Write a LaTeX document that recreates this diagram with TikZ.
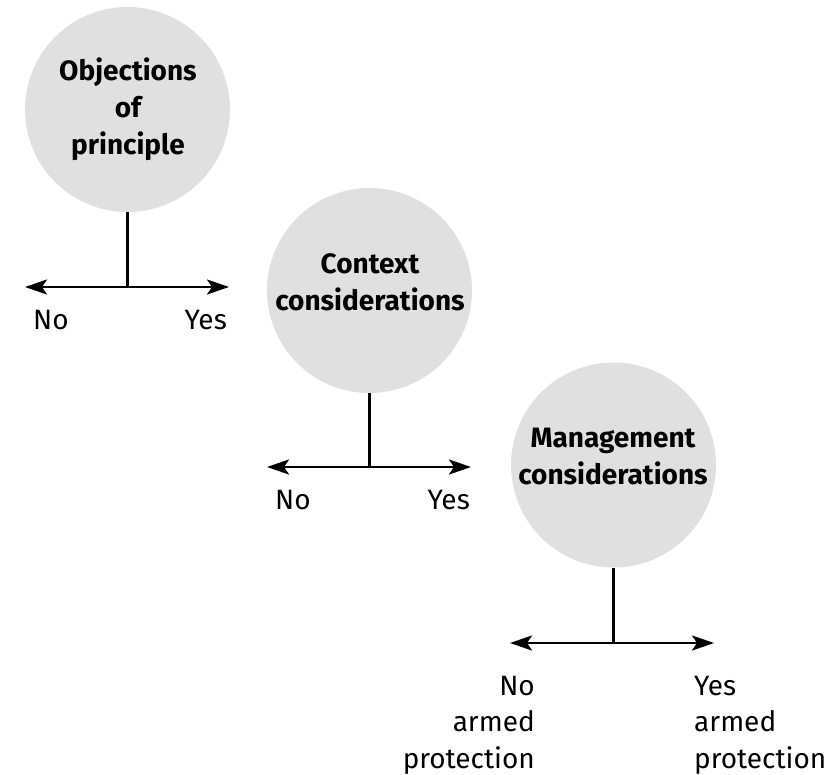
\documentclass[tikz,border=0pt]{standalone}
\usepackage{fontspec}
\setmainfont{Fira Sans}
\usetikzlibrary{arrows.meta}
\definecolor{circfill}{HTML}{E0E0E0}
\begin{document}
\begin{tikzpicture}[x=1pt,y=-1pt,
  bubble/.style={circle, fill=circfill, minimum size=205pt, inner sep=0pt},
  qtext/.style={inner sep=0pt, anchor=base, font=\fontsize{28}{37}\selectfont\bfseries},
  ans/.style={inner sep=0pt, font=\fontsize{28}{36.5}\selectfont},
  stem/.style={line width=2.6pt},
  fork/.style={line width=2.6pt, {Stealth[length=22pt,width=15pt,inset=5pt]}-{Stealth[length=22pt,width=15pt,inset=5pt]}}
]
\useasboundingbox (0,0) rectangle (840,774);

% circles
\node[bubble] (c1) at (127.5,109.5) {};
\node[bubble] (c2) at (369.5,290.5) {};
\node[bubble] (c3) at (613.5,465) {};

% circle texts
\node[qtext] (t1) at (128,80) {\begin{tabular}[t]{@{}c@{}}Objections\\of\\principle\end{tabular}};
\node[qtext] (t2) at (370,273) {\begin{tabular}[t]{@{}c@{}}Context\\considerations\end{tabular}};
\node[qtext] (t3) at (613,447) {\begin{tabular}[t]{@{}c@{}}Management\\considerations\end{tabular}};

% junctions and arrow ends
\coordinate (j1) at (127.5,287);
\coordinate (l1) at (25,287);
\coordinate (r1) at (229,287);
\coordinate (j2) at (369.5,467);
\coordinate (l2) at (267,467);
\coordinate (r2) at (471,467);
\coordinate (j3) at (613.5,643);
\coordinate (l3) at (510,643);
\coordinate (r3) at (714,643);

\draw[stem] (c1) -- (j1);
\draw[fork] (l1) -- (r1);
\draw[stem] (c2) -- (j2);
\draw[fork] (l2) -- (r2);
\draw[stem] (c3) -- (j3);
\draw[fork] (l3) -- (r3);

% answers
\node[ans, anchor=base west] (n1) at (33,329) {No};
\node[ans, anchor=base east] (y1) at (227,329) {Yes};
\node[ans, anchor=base west] (n2) at (275,509) {No};
\node[ans, anchor=base east] (y2) at (470,509) {Yes};
\node[ans, anchor=base east] (n3) at (535,695) {\begin{tabular}[t]{@{}r@{}}No\\armed\\protection\end{tabular}};
\node[ans, anchor=base west] (y3) at (694,695) {\begin{tabular}[t]{@{}l@{}}Yes\\armed\\protection\end{tabular}};
\end{tikzpicture}
\end{document}
